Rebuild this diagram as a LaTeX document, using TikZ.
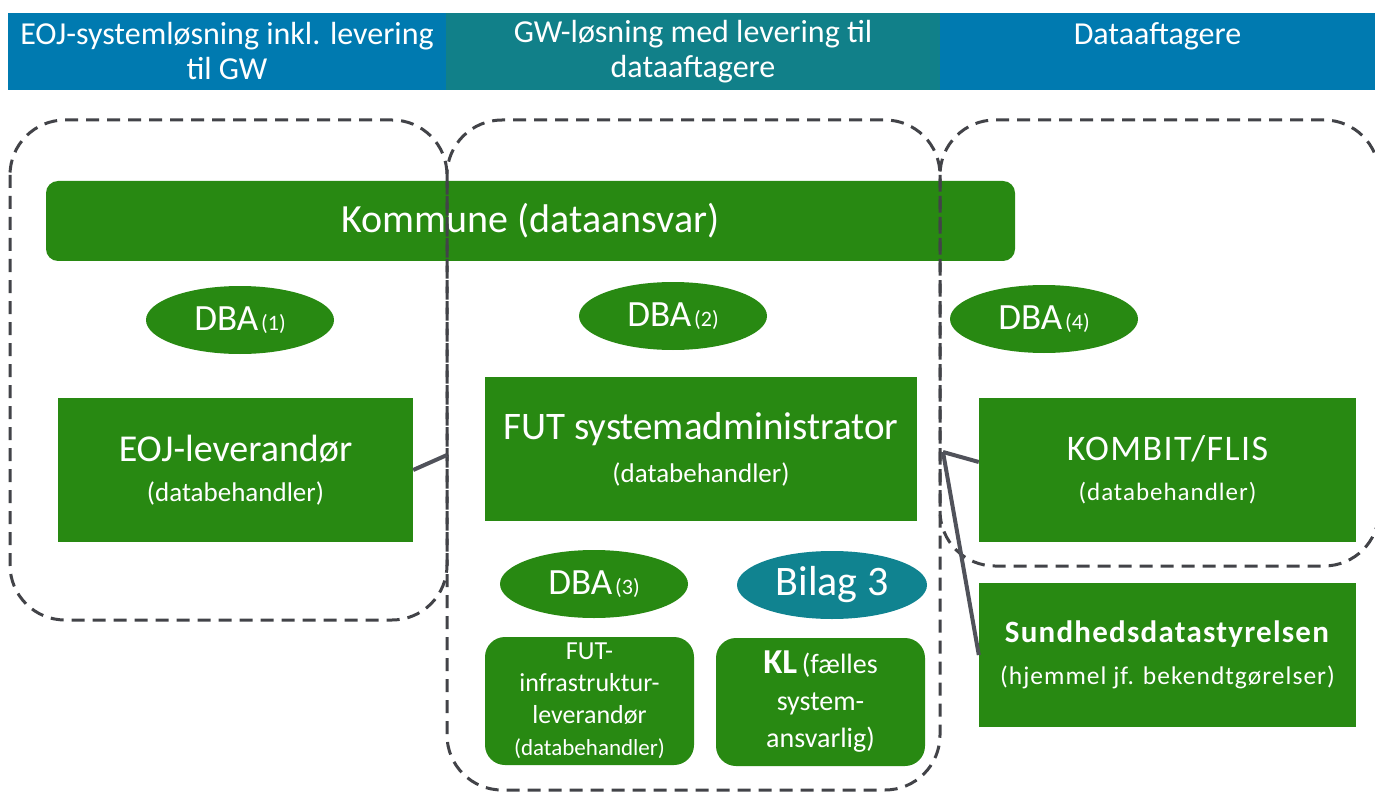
\documentclass[tikz,border=0pt]{standalone}
\usepackage{fontspec}
\setmainfont{Carlito}
\newfontfamily\widefont[LetterSpace=4]{Carlito}
\usepackage{xcolor}
\usepackage{tikz}
\usetikzlibrary{positioning, shapes}

\definecolor{hdrblue}{RGB}{0,122,176}
\definecolor{hdrteal}{RGB}{17,128,137}
\definecolor{dbagreen}{RGB}{40,137,18}
\definecolor{bilagteal}{RGB}{16,131,144}
\definecolor{zonegray}{RGB}{66,67,72}
\definecolor{linegray}{RGB}{80,82,90}

\newcommand{\dbanr}[1]{\kern3pt{\fontsize{22}{24}\selectfont(#1)}}
\newcommand{\behandler}{{\fontsize{27}{30}\selectfont (databehandler)}}

\begin{document}
\begin{tikzpicture}[x=1pt, y=-1pt]
        \tikzset{hdr/.style = {minimum height=77pt, inner sep=0pt, text=white, align=center, font=\fontsize{32}{35}\selectfont}}
        \tikzset{gbox/.style = {fill=dbagreen, text=white, inner sep=0pt, align=center}}
        \tikzset{dba/.style = {ellipse, fill=dbagreen, text=white, minimum width=188pt, minimum height=68pt, inner sep=0pt, font=\fontsize{37}{40}\selectfont}}
        \tikzset{zone/.style = {draw=zonegray, line width=3pt, dash pattern=on 13pt off 8pt, rounded corners=55pt}}
        \tikzset{link/.style = {draw=linegray, line width=4pt}}

        \useasboundingbox (0,0) rectangle (1375,794);

        % header
        \node[hdr, fill=hdrblue, minimum width=438pt] (hEOJ) at (227,51.5) {EOJ-systemløsning inkl. levering\\til GW};
        \node[hdr, fill=hdrteal, minimum width=494pt] (hGW) at (693,51.5) {GW-løsning med levering til\\dataaftagere};
        \node[hdr, fill=hdrblue, minimum width=435pt] (hData) at (1157.5,51.5) {Dataaftagere\\\mbox{}};

        \node[gbox, rounded corners=12pt, minimum width=969pt, minimum height=80pt, font=\fontsize{40}{44}\selectfont] (kommune) at (530.5,221) {Kommune (dataansvar)};

        \node[dba] (dba1) at (240,320) {DBA\dbanr{1}};
        \node[dba] (dba2) at (673,316) {DBA\dbanr{2}};
        \node[dba] (dba4) at (1044,319) {DBA\dbanr{4}};
        \node[dba] (dba3) at (594,584) {DBA\dbanr{3}};
        \node[dba, fill=bilagteal, minimum width=190pt, font=\fontsize{42}{44}\selectfont] (bilag) at (832,585) {Bilag 3};

        \node[gbox, minimum width=355pt, minimum height=144pt, font=\fontsize{38}{40}\selectfont] (eoj) at (235.5,470) {EOJ-leverandør\\\behandler};
        \node[gbox, minimum width=432pt, minimum height=144pt, font=\fontsize{39}{43}\selectfont] (fut) at (701,449) {FUT systemadministrator\\\behandler};
        \node[gbox, minimum width=377pt, minimum height=144pt, font=\widefont\fontsize{36}{40}\selectfont] (kombit) at (1167.5,470) {KOMBIT/FLIS\\{\fontsize{25}{30}\selectfont(databehandler)}};
        \node[gbox, minimum width=377pt, minimum height=144pt, font=\widefont\fontsize{31}{42}\selectfont] (sds) at (1167.5,655) {\textbf{Sundhedsdatastyrelsen}\\{\fontsize{25.5}{30}\selectfont(hjemmel jf. bekendtgørelser)}};

        \node[gbox, rounded corners=20pt, minimum width=209pt, minimum height=128pt, font=\fontsize{26}{32}\selectfont] (infra) at (589.5,701) {FUT-\\infrastruktur-\\leverandør\\{\fontsize{23}{28}\selectfont(databehandler)}};
        \node[gbox, rounded corners=20pt, minimum width=209pt, minimum height=128pt, font=\fontsize{28}{37}\selectfont] (kl) at (820.5,702) {{\fontsize{35}{37}\selectfont\textbf{KL}}\,(fælles\\system-\\ansvarlig)};

        % zones
        \draw[zone] (10,120) rectangle (447,620);
        \draw[zone] (447,120) rectangle (940,790);
        \draw[zone] (940,120) rectangle (1379,566);

        % links
        \coordinate (eojjoin) at (447,455);
        \coordinate (futjoin) at (943,452);
        \draw[link] (eoj.east) -- (eojjoin);
        \draw[link] ([yshift=8pt]kombit.west) -- (futjoin);
        \draw[link] (sds.west) -- (futjoin);

    \end{tikzpicture}
\end{document}
